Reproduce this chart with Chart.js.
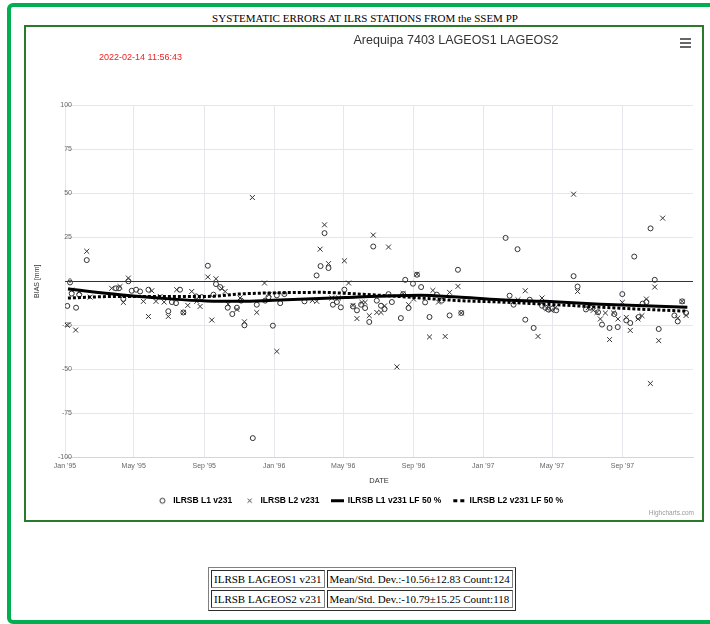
<!DOCTYPE html>
<html>
<head>
<meta charset="utf-8">
<title>Arequipa 7403 LAGEOS1 LAGEOS2</title>
<script src="https://cdn.jsdelivr.net/npm/chart.js@4.4.1/dist/chart.umd.min.js"></script>
<style>
    body { margin: 0; background: #fff; font-family: "Liberation Sans", Arial, sans-serif; }
    #frame { position: absolute; left: 7px; top: 3px; width: 800px; height: 613px; border: 4px solid #00b050; border-radius: 6px; }
    #heading { position: absolute; left: 0; top: 12px; width: 730px; text-align: center; font: 11px "Liberation Serif", "Times New Roman", serif; color: #000; }
    #box { position: absolute; left: 24px; top: 25px; width: 676px; height: 493px; border: 2px solid #2a7a2a; background: #fff; }
    #box canvas { position: absolute; left: 0; top: 0; }
    #chartTitle { position: absolute; left: 430px; top: 6px; transform: translateX(-50%); white-space: nowrap; font-size: 12.5px; color: #333; }
    #stamp { position: absolute; left: 73px; top: 25px; font-size: 9px; color: #f01e1e; white-space: nowrap; }
    #menu { position: absolute; left: 654px; top: 11px; width: 11px; }
    #menu div { height: 2px; background: #666; margin-bottom: 2px; }
    #credits { position: absolute; right: 8px; top: 482px; font-size: 6.5px; color: #999; }
    #stats { position: absolute; left: 208px; top: 567px; font: 11px "Liberation Serif", "Times New Roman", serif; }
</style>
</head>
<body>
<div id="frame"></div>
<div id="heading">SYSTEMATIC ERRORS AT ILRS STATIONS FROM the SSEM PP</div>
<div id="box">
    <canvas id="biasChart" width="676" height="493"></canvas>
    <div id="chartTitle">Arequipa 7403 LAGEOS1 LAGEOS2</div>
    <div id="stamp">2022-02-14 11:56:43</div>
    <div id="menu"><div></div><div></div><div></div></div>
    <div id="credits">Highcharts.com</div>
</div>
<table id="stats" border="1" cellspacing="2" cellpadding="2">
    <tr><td>ILRSB LAGEOS1 v231</td><td>Mean/Std. Dev.:-10.56±12.83 Count:124</td></tr>
    <tr><td>ILRSB LAGEOS2 v231</td><td>Mean/Std. Dev.:-10.79±15.25 Count:118</td></tr>
</table>
<script>
// Tempo em anos decimais, bias em mm
const l1Year = [
    1995.011, 1995.024, 1995.032, 1995.053, 1995.068, 1995.104, 1995.244, 1995.258, 1995.279, 1995.303,
    1995.319, 1995.340, 1995.359, 1995.399, 1995.494, 1995.511, 1995.531, 1995.550, 1995.566, 1995.627,
    1995.654, 1995.683, 1995.710, 1995.722, 1995.742, 1995.778, 1995.800, 1995.822, 1995.842, 1995.858,
    1995.898, 1995.917, 1995.957, 1995.973, 1995.994, 1996.013, 1996.029, 1996.049, 1996.145, 1996.203,
    1996.222, 1996.241, 1996.260, 1996.281, 1996.300, 1996.319, 1996.336, 1996.377, 1996.396, 1996.416,
    1996.435, 1996.455, 1996.474, 1996.491, 1996.511, 1996.528, 1996.547, 1996.563, 1996.606, 1996.617,
    1996.627, 1996.643, 1996.664, 1996.683, 1996.703, 1996.722, 1996.743, 1996.778, 1996.802, 1996.839,
    1996.879, 1996.895, 1997.107, 1997.126, 1997.145, 1997.164, 1997.201, 1997.222, 1997.241, 1997.281,
    1997.297, 1997.311, 1997.330, 1997.349, 1997.432, 1997.451, 1997.491, 1997.512, 1997.549, 1997.568,
    1997.604, 1997.627, 1997.643, 1997.665, 1997.684, 1997.703, 1997.722, 1997.743, 1997.762, 1997.780,
    1997.800, 1997.820, 1997.839, 1997.914, 1997.930, 1997.951, 1997.970
];
const l1Bias = [
    -14, -0.7, -7, -15, -7.6, 12, -4, -4, -10, 0,
    -5.4, -4.8, -5.8, -4.8, -17, -11.8, -12.4, -4.8, -17.7, -8.6,
    -9, 8.8, -7.6, -1.6, -3.3, -15, -18.6, -15, -11, -25,
    -89, -13.3, -11, -9, -25.2, -8, -12.4, -7.3, -11.4, 3.3,
    8.6, 27.3, 7.5, -13.3, -11.8, -14.8, -4.8, -14.3, -16.5, -13.3,
    -15.2, -23.1, 19.7, -11, -13.9, -15.8, -7.3, -11.8, -20.9, -7.3,
    0.8, -15.2, -1.4, 3.7, -3.3, -12, -20.3, -7.6, -11, -19.4,
    6.5, -18, 24.6, -8.2, -13.3, 18.2, -21.8, -10.5, -26.5, -13.9,
    -15, -16, -15.5, -16.5, 2.9, -3, -16, -15, -17.6, -24.6,
    -26.5, -18.6, -26, -7.3, -22.2, -23.7, 14, -20.3, -12.7, -11.8,
    30, 0.8, -27.1, -19.4, -22.8, -11.4, -18
];

const l2Year = [
    1995.011, 1995.032, 1995.051, 1995.068, 1995.104, 1995.120, 1995.223, 1995.263, 1995.279, 1995.303,
    1995.375, 1995.399, 1995.415, 1995.435, 1995.455, 1995.474, 1995.494, 1995.534, 1995.566, 1995.587,
    1995.606, 1995.630, 1995.646, 1995.683, 1995.702, 1995.722, 1995.750, 1995.766, 1995.780, 1995.822,
    1995.837, 1995.858, 1995.896, 1995.917, 1995.954, 1995.976, 1996.013, 1996.183, 1996.204, 1996.220,
    1996.241, 1996.260, 1996.276, 1996.308, 1996.336, 1996.356, 1996.377, 1996.396, 1996.420, 1996.435,
    1996.455, 1996.474, 1996.491, 1996.511, 1996.528, 1996.547, 1996.587, 1996.617, 1996.643, 1996.667,
    1996.683, 1996.743, 1996.759, 1996.786, 1996.818, 1996.839, 1996.879, 1996.895, 1997.166, 1997.201,
    1997.262, 1997.281, 1997.306, 1997.325, 1997.344, 1997.432, 1997.451, 1997.502, 1997.526, 1997.544,
    1997.560, 1997.584, 1997.604, 1997.623, 1997.644, 1997.665, 1997.684, 1997.703, 1997.740, 1997.759,
    1997.780, 1997.799, 1997.820, 1997.839, 1997.858, 1997.930, 1997.951, 1997.970
];
const l2Bias = [
    -25, -5, -27.7, -6, 17, -9, -4, -3, -12, 1.8,
    -11.4, -20, -5.4, -11.4, -8.6, -11.8, -20, -4.8, -17.7, -13.7,
    -5.8, -11.4, -14.3, 2.4, -22, 1.4, -4.2, -5.8, -13, -16,
    -9.5, -23, 47.5, -17.7, -1, -7.6, -39.8, -10.9, -11.4, 18.2,
    32, 10, -9.5, -9.5, 11.6, -1, -13.7, -21.2, -12, -12,
    -19.5, 26.2, -17.7, -17.7, -14, 19.4, -48.6, -7, -13.3, -10.1,
    4, -31.6, -5.2, -11.8, -31.3, -6.3, -2.9, -18, -10.5, -5.4,
    -31.3, -9.5, -15.5, -16.5, -15, 49.4, -5.8, -15, -16.5, -17.7,
    -21.4, -18, -33.1, -18, -21.4, -12, -20.5, -27.9, -21.4, -19.5,
    -10.1, -58, -3.3, -33.7, 35.8, -20.9, -11.4, -19.4
];

// Ajuste LF 50 %
const lf1Year = [1995.014, 1995.263, 1995.502, 1995.679, 1995.837, 1995.995, 1996.340, 1996.579, 1996.699, 1996.876, 1997.081, 1997.297, 1997.560, 1997.976];
const lf1Bias = [-4.4, -7.6, -10, -11.2, -11.4, -10.8, -9.2, -8.2, -8, -9, -10.5, -11.4, -13, -14.7];
const lf2Year = [1995.014, 1995.263, 1995.679, 1995.837, 1995.995, 1996.220, 1996.364, 1996.579, 1996.890, 1997.081, 1997.344, 1997.689, 1997.976];
const lf2Bias = [-9.5, -8.6, -8.6, -7.2, -6.6, -6.3, -7, -8.5, -11, -11.8, -13.3, -15.5, -17];

// Marcas do eixo X (1 jan, 1 mai, 1 set)
const tickYears = [1995, 1995.3288, 1995.6658, 1996, 1996.3306, 1996.6667, 1997, 1997.3288, 1997.6658];
const tickLabels = ["Jan '95", "May '95", "Sep '95", "Jan '96", "May '96", "Sep '96", "Jan '97", "May '97", "Sep '97"];

const seriesLabels = ['ILRSB L1 v231', 'ILRSB L2 v231', 'ILRSB L1 v231 LF 50 %', 'ILRSB L2 v231 LF 50 %'];

function toPoints(xs, ys) {
    return xs.map(function(x, i) { return { x: x, y: ys[i] }; });
}

// Simbolos da legenda
function legendIcon(kind) {
    const c = document.createElement('canvas');
    c.width = 13; c.height = 9;
    const g = c.getContext('2d');
    g.strokeStyle = '#333';
    g.fillStyle = '#000';
    g.lineWidth = 1;
    if (kind === 'circle') {
        g.beginPath(); g.arc(6.5, 4.5, 2.5, 0, Math.PI * 2); g.stroke();
    } else if (kind === 'cross') {
        g.beginPath();
        g.moveTo(4.5, 2.5); g.lineTo(8.5, 6.5);
        g.moveTo(8.5, 2.5); g.lineTo(4.5, 6.5);
        g.stroke();
    } else if (kind === 'solid') {
        g.fillRect(0, 3, 13, 3);
    } else {
        g.fillRect(1, 3, 4, 3);
        g.fillRect(8, 3, 4, 3);
    }
    return c;
}
const icons = [legendIcon('circle'), legendIcon('cross'), legendIcon('solid'), legendIcon('dots')];

Chart.defaults.font.family = '"Liberation Sans", Arial, sans-serif';

new Chart(document.getElementById('biasChart'), {
    type: 'scatter',
    data: {
        datasets: [
            {
                label: seriesLabels[0],
                data: toPoints(l1Year, l1Bias),
                pointStyle: 'circle',
                pointRadius: 2.5,
                borderColor: '#333',
                backgroundColor: 'rgba(0,0,0,0)',
                borderWidth: 1,
                order: 2
            },
            {
                label: seriesLabels[1],
                data: toPoints(l2Year, l2Bias),
                pointStyle: 'crossRot',
                pointRadius: 3.5,
                borderColor: '#333',
                borderWidth: 1,
                order: 2
            },
            {
                label: seriesLabels[2],
                data: toPoints(lf1Year, lf1Bias),
                showLine: true,
                borderColor: '#000',
                borderWidth: 3,
                pointRadius: 0,
                cubicInterpolationMode: 'monotone',
                order: 1
            },
            {
                label: seriesLabels[3],
                data: toPoints(lf2Year, lf2Bias),
                showLine: true,
                borderColor: '#000',
                borderWidth: 3,
                borderDash: [3, 2],
                pointRadius: 0,
                cubicInterpolationMode: 'monotone',
                order: 1
            }
        ]
    },
    options: {
        responsive: false,
        animation: false,
        layout: { padding: { left: 0, top: 78, right: 9, bottom: 5 } },
        scales: {
            x: {
                type: 'linear',
                min: 1995,
                max: 1998.003,
                afterBuildTicks: function(scale) {
                    scale.ticks = tickYears.map(function(v) { return { value: v }; });
                },
                afterFit: function(scale) { scale.height = 28; },
                ticks: {
                    autoSkip: false,
                    maxRotation: 0,
                    padding: 4,
                    color: '#666',
                    font: { size: 7 },
                    callback: function(value) {
                        const i = tickYears.indexOf(value);
                        return i >= 0 ? tickLabels[i] : '';
                    }
                },
                grid: { color: '#e6e6ee', drawTicks: false },
                border: { color: '#ccd6eb' },
                title: { display: true, text: 'DATE', color: '#333', font: { size: 7.5 }, padding: { top: 0, bottom: 0.5 } }
            },
            y: {
                min: -100,
                max: 100,
                afterFit: function(scale) { scale.width = 39; },
                ticks: {
                    stepSize: 25,
                    mirror: true,
                    crossAlign: 'far',
                    padding: -7,
                    color: '#666',
                    font: { size: 7 }
                },
                grid: {
                    drawTicks: false,
                    color: function(c) { return c.tick && c.tick.value === 0 ? '#333' : '#e6e6e6'; }
                },
                border: { display: false },
                title: { display: true, text: 'BIAS [mm]', color: '#333', font: { size: 7 }, padding: { top: 7, bottom: 0 } }
            }
        },
        plugins: {
            tooltip: { enabled: false },
            legend: {
                position: 'bottom',
                labels: {
                    usePointStyle: true,
                    pointStyleWidth: 13,
                    padding: 11,
                    color: '#333',
                    font: { size: 8.5, weight: 'bold' },
                    generateLabels: function(chart) {
                        return chart.data.datasets.map(function(ds, i) {
                            return {
                                text: ds.label,
                                datasetIndex: i,
                                pointStyle: icons[i],
                                fillStyle: 'rgba(0,0,0,0)',
                                strokeStyle: 'rgba(0,0,0,0)',
                                lineWidth: 0,
                                hidden: false
                            };
                        });
                    }
                }
            }
        }
    }
});
</script>
</body>
</html>
